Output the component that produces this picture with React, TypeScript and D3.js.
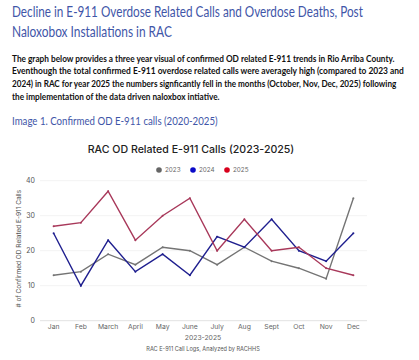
import React, { useEffect, useRef } from 'react';
import * as d3 from 'd3';

const months = ['Jan', 'Feb', 'March', 'April', 'May', 'June', 'July', 'Aug', 'Sept', 'Oct', 'Nov', 'Dec'];
const years = ['2023', '2024', '2025'];
const calls2023 = [13, 14, 19, 16, 21, 20, 16, 21, 17, 15, 12, 35];
const calls2024 = [25, 10, 23, 14, 19, 13, 24, 21, 29, 20, 17, 25];
const calls2025 = [27, 28, 37, 23, 30, 35, 20, 29, 20, 21, 15, 13];
const yTicks = [0, 10, 20, 30, 40];

const headingLines = [
  'Decline in E-911 Overdose Related Calls and Overdose Deaths, Post',
  'Naloxobox Installations in RAC',
];
const bodyLines = [
  'The graph below provides a three year visual of confirmed OD related E-911 trends in Rio Arriba County.',
  'Eventhough the total confirmed E-911 overdose related calls were averagely high (compared to 2023 and',
  '2024) in RAC for year 2025 the numbers signficantly fell in the months (October, Nov, Dec, 2025) following',
  'the implementation of the data driven naloxbox intiative.',
];

const App = () => {
  const ref = useRef<SVGSVGElement>(null);

  useEffect(() => {
    const svg = d3.select(ref.current);
    svg.selectAll('*').remove();

    const docFont = 'Lato, "Open Sans", sans-serif';
    const chartFont = 'Inter, Roboto, sans-serif';

    // the original document font is narrower than Lato, so squeeze each line to its width
    const docLine = (txt: string, y: number, width: number, size: number, color: string, weight: string) => {
      const t = svg.append('text')
        .attr('x', 0)
        .attr('y', 0)
        .attr('font-family', docFont)
        .attr('font-size', size)
        .attr('font-weight', weight)
        .attr('fill', color)
        .text(txt);
      const len = (t.node() as SVGTextElement).getComputedTextLength();
      const sx = len > 0 ? width / len : 1;
      t.attr('transform', `translate(12,${y}) scale(${sx},1)`);
    };

    const headWidths = [351, 160];
    headingLines.forEach((d, i) => docLine(d, 17 + i * 19.5, headWidths[i], 14.5, '#3f56a8', 'normal'));

    const bodyWidths = [383, 392, 385, 208];
    bodyLines.forEach((d, i) => docLine(d, 61.5 + i * 12.8, bodyWidths[i], 9, '#111', 'bold'));

    docLine('Image 1. Confirmed OD E-911 calls (2020-2025)', 125, 206, 11.5, '#3f56a8', 'normal');

    // Chart
    const margin = { left: 40, right: 367, top: 180.7, bottom: 320.7 };

    const x = d3.scalePoint()
      .domain(months)
      .range([margin.left, margin.right])
      .padding(0.5);

    const y = d3.scaleLinear()
      .domain([0, 40])
      .range([margin.bottom, margin.top]);

    svg.append('text')
      .attr('x', 191)
      .attr('y', 153)
      .attr('text-anchor', 'middle')
      .attr('font-family', chartFont)
      .attr('font-size', 10.6)
      .attr('font-weight', 500)
      .attr('fill', '#222')
      .text('RAC OD Related E-911 Calls (2023-2025)');

    // Grid lines
    svg.append('g')
      .selectAll('line')
      .data(yTicks)
      .enter().append('line')
      .attr('x1', margin.left)
      .attr('x2', margin.right)
      .attr('y1', d => y(d))
      .attr('y2', d => y(d))
      .attr('stroke', d => (d === 0 ? '#e2e2e2' : '#f3f3f3'))
      .attr('stroke-width', 1);

    // Y axis labels
    svg.append('g')
      .selectAll('text')
      .data(yTicks)
      .enter().append('text')
      .attr('x', 35)
      .attr('y', d => y(d))
      .attr('dy', '0.35em')
      .attr('text-anchor', 'end')
      .attr('font-family', chartFont)
      .attr('font-size', 7)
      .attr('fill', '#555')
      .text(d => d);

    // X axis labels
    svg.append('g')
      .selectAll('text')
      .data(months)
      .enter().append('text')
      .attr('x', d => x(d))
      .attr('y', 329)
      .attr('text-anchor', 'middle')
      .attr('font-family', chartFont)
      .attr('font-size', 6.8)
      .attr('fill', '#666')
      .text(d => d);

    svg.append('text')
      .attr('transform', `translate(21,${(margin.top + margin.bottom) / 2 - 2}) rotate(-90)`)
      .attr('text-anchor', 'middle')
      .attr('font-family', chartFont)
      .attr('font-size', 6.5)
      .attr('fill', '#555')
      .text('# of Confirmed OD Related E-911 Calls');

    svg.append('text')
      .attr('x', 203)
      .attr('y', 340)
      .attr('text-anchor', 'middle')
      .attr('font-family', chartFont)
      .attr('font-size', 6.8)
      .attr('fill', '#666')
      .text('2023-2025');

    svg.append('text')
      .attr('x', 203)
      .attr('y', 351)
      .attr('text-anchor', 'middle')
      .attr('font-family', chartFont)
      .attr('font-size', 5.6)
      .attr('fill', '#555')
      .text('RAC E-911 Call Logs, Analyzed by RACHHS');

    // Series
    const series = [
      { key: years[0], values: calls2023, line: '#747474', dot: '#666666' },
      { key: years[1], values: calls2024, line: '#1f1f8f', dot: '#0a0ac8' },
      { key: years[2], values: calls2025, line: '#a8385a', dot: '#d8001c' },
    ];

    const line = d3.line<number>()
      .x((d, i) => x(months[i]) as number)
      .y(d => y(d));

    series.forEach(s => {
      svg.append('path')
        .datum(s.values)
        .attr('d', line)
        .attr('fill', 'none')
        .attr('stroke', s.line)
        .attr('stroke-width', 1.4)
        .attr('stroke-linejoin', 'miter');

      svg.append('g')
        .selectAll('circle')
        .data(s.values)
        .enter().append('circle')
        .attr('cx', (d, i) => x(months[i]) as number)
        .attr('cy', d => y(d))
        .attr('r', 1)
        .attr('fill', s.line);
    });

    // Legend
    const legendX = [159, 193, 227];
    const legend = svg.append('g');
    legend.selectAll('circle')
      .data(series)
      .enter().append('circle')
      .attr('cx', (d, i) => legendX[i])
      .attr('cy', 170)
      .attr('r', 2.8)
      .attr('fill', d => d.dot);
    legend.selectAll('text')
      .data(series)
      .enter().append('text')
      .attr('x', (d, i) => legendX[i] + 6)
      .attr('y', 170)
      .attr('dy', '0.35em')
      .attr('font-family', chartFont)
      .attr('font-size', 6.3)
      .attr('fill', '#666')
      .text(d => d.key);
  }, []);

  return (
    <svg
      ref={ref}
      width="419"
      height="360"
      style={{ position: 'absolute', left: 0, top: 0, background: '#fff' }}
    ></svg>
  );
};

export default App;
